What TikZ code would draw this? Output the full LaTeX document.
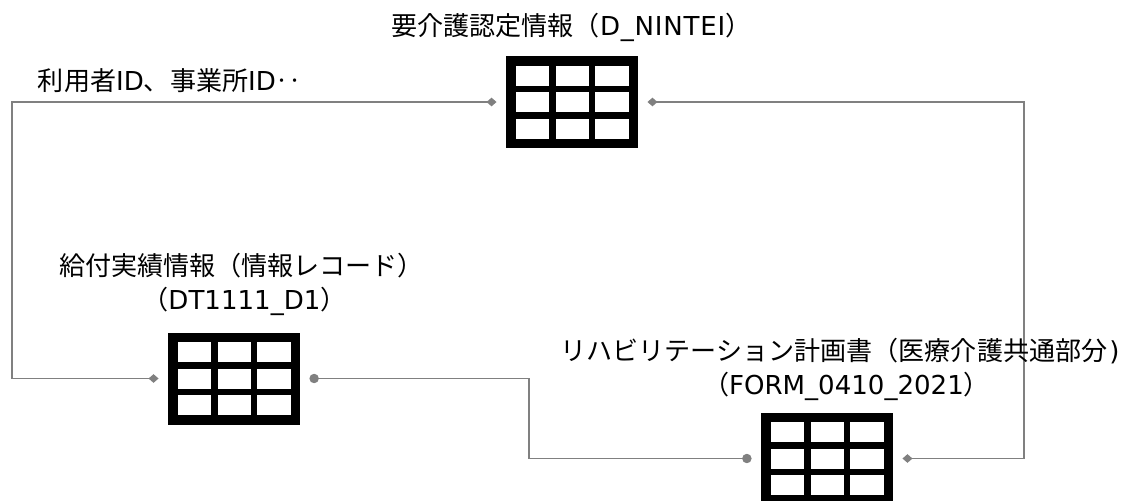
\documentclass[tikz,border=0pt]{standalone}
\usepackage{fontspec}
\setmainfont{DejaVu Sans}
\newfontfamily\jp{Noto Sans CJK JP}
\usetikzlibrary{positioning,arrows.meta}
\tikzset{
  tableicon/.style = {shape=rectangle, fill=black, inner sep=0pt,
                      minimum width=99pt, minimum height=69pt,
                      outer sep=7.1pt},
  title/.style     = {align=center, inner sep=0pt, font=\fontsize{19.55pt}{25.5pt}\selectfont},
  link/.style      = {draw=linkgray, line width=1.3pt},
  dia/.style       = {{Diamond[length=7.5pt,width=6.5pt]}-{Diamond[length=7.5pt,width=6.5pt]}},
  dot/.style       = {{Circle[length=7pt]}-{Circle[length=7pt]}}
}
\definecolor{linkgray}{HTML}{808080}
\begin{document}
\begin{tikzpicture}
  [
    x = 0.75pt,
    y = -0.75pt
  ]
  \clip (0,0) rectangle (1121,500);
  % tables
  \node [tableicon] (nintei) at (572,102) {};
  \node [tableicon] (kyufu)  at (234,378.5) {};
  \node [tableicon] (form)   at (827,458.5) {};
  \foreach \icon in {nintei,kyufu,form}
    \foreach \dx in {-56.2,-16.5,23.2}
      \foreach \dy in {-36.5,-10,16.5}
        \fill [white] ([shift={(\dx,\dy)}]\icon.center) rectangle ++(33.3,20);
  % bends
  \coordinate (bendL) at (12,240);
  \coordinate (bendR) at (1024,280);
  \coordinate (bendB) at (529,418);
  % connectors
  \draw [link, dia] (nintei.west) -| (bendL) |- (kyufu.west);
  \draw [link, dia] (nintei.east) -| (bendR) |- (form.east);
  \draw [link, dot] (kyufu.east) -| (bendB) |- (form.west);
  % labels
  \node [title] (ninteilabel) at (571.5,27) {{\jp 要介護認定情報（}{\addfontfeature{LetterSpace=3}D\_NINTEI}{\jp ）}};
  \node [title] (idlabel) at (170,81) {{\jp 利用者}ID{\jp 、事業所}ID{\jp ‥}};
  \node [title] (kyufulabel) at (241.5,284) {{\jp 給付実績情報（情報レコード）}\\\hspace*{4.5pt}{\jp （}DT1111\_D1{\jp ）}};
  \node [title] (formlabel) at (840,369) {{\jp リハビリテーション計画書（医療介護共通部分}\kern1.5pt)\\\hspace*{9.75pt}{\jp （}FORM\_0410\_2021{\jp ）}};
\end{tikzpicture}
\end{document}
